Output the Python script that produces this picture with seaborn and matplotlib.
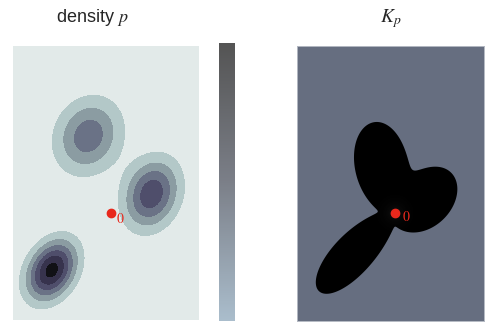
import numpy as np
import matplotlib
matplotlib.use("Agg")
import matplotlib.pyplot as plt
from matplotlib.colors import ListedColormap, BoundaryNorm, LinearSegmentedColormap
from matplotlib.patches import Polygon
from matplotlib.cm import ScalarMappable
import seaborn as sns

# ---- mixture density parameters ----
mean_x = [-0.60, 1.10, -1.585]
mean_y = [2.06, 0.50, -1.55]
sigma_major = [0.70, 0.65, 0.58]
sigma_minor = [0.58, 0.48, 0.40]
angle_deg = [65.0, 70.0, 60.0]
weights = [1 / 3, 1 / 3, 1 / 3]

density_levels = [0.0, 0.036, 0.072, 0.108, 0.144, 0.180, 0.216, 1.0]
band_colors = ["#e2eae9", "#b3c8c8", "#8b9ca2", "#6a7286", "#4f4e6b", "#37334d", "#111116"]
colorbar_colors = ["#aabdcc", "#7b7f88", "#545454"]
kp_background = "#666e80"
kp_dimension = 3
kp_scale = 1.7
origin_label = "$0$"
titles = ["density $p$", "$K_p$"]
x_range = (-2.625, 2.375)
y_range = (-2.89, 4.48)

sns.set_theme(style="white")
plt.rcParams["mathtext.fontset"] = "stix"
plt.rcParams["font.family"] = ["Liberation Sans", "DejaVu Sans"]


def density(X, Y):
    Z = np.zeros_like(X, dtype=float)
    for mx, my, sa, sb, ang, w in zip(mean_x, mean_y, sigma_major, sigma_minor, angle_deg, weights):
        t = np.deg2rad(ang)
        R = np.array([[np.cos(t), -np.sin(t)], [np.sin(t), np.cos(t)]])
        S = R @ np.diag([sa ** 2, sb ** 2]) @ R.T
        Si = np.linalg.inv(S)
        dx, dy = X - mx, Y - my
        q = Si[0, 0] * dx ** 2 + 2 * Si[0, 1] * dx * dy + Si[1, 1] * dy ** 2
        Z += w * np.exp(-q / 2) / (2 * np.pi * np.sqrt(np.linalg.det(S)))
    return Z


fig = plt.figure(figsize=(4.87, 3.22), dpi=100)
ax1 = fig.add_axes([13 / 487, 2 / 322, 186 / 487, 274 / 322])
cax = fig.add_axes([219 / 487, 1 / 322, 16 / 487, 278 / 322])
ax2 = fig.add_axes([297 / 487, 1 / 322, 187 / 487, 275 / 322])

# ---- left: density ----
xs = np.linspace(*x_range, 500)
ys = np.linspace(*y_range, 700)
X, Y = np.meshgrid(xs, ys)
Z = density(X, Y)
cmap = ListedColormap(sns.color_palette(band_colors))
norm = BoundaryNorm(density_levels, cmap.N)
ax1.contourf(X, Y, Z, levels=density_levels, cmap=cmap, norm=norm)
ax1.set_xlim(*x_range)
ax1.set_ylim(*y_range)

# ---- right: K_p (radial function from the density) ----
n = kp_dimension
thetas = np.linspace(0, 2 * np.pi, 1441)
rr = np.linspace(0, 12, 3000)
TT, RR = np.meshgrid(thetas, rr, indexing="ij")
P = density(RR * np.cos(TT), RR * np.sin(TT))
integral = np.trapezoid(RR ** (n - 1) * P, rr, axis=1)
rho = kp_scale * (n * integral) ** (1 / n)
ax2.set_facecolor(kp_background)
poly = Polygon(np.column_stack([rho * np.cos(thetas), rho * np.sin(thetas)]),
               closed=True, facecolor="black", edgecolor="none", zorder=1)
ax2.add_patch(poly)
# faint glow near origin
dist = np.sqrt(X ** 2 + Y ** 2)
glow = np.zeros(X.shape + (4,))
glow[..., :3] = 0.7
glow[..., 3] = 0.12 * np.exp(-dist / 0.18)
im = ax2.imshow(glow, extent=[*x_range, *y_range], origin="lower", zorder=2, aspect="auto")
im.set_clip_path(poly)
ax2.set_xlim(*x_range)
ax2.set_ylim(*y_range)

for ax, dx, dy in [(ax1, 0.27, -0.16), (ax2, 0.29, -0.11)]:
    ax.plot([0], [0], "o", color="#e8281c", markersize=6, zorder=5)
    ax.text(dx, dy, origin_label, color="#e8281c", fontsize=10, ha="center", va="center", zorder=5)
    ax.set_xticks([])
    ax.set_yticks([])
    for s in ax.spines.values():
        s.set_visible(False)
for s in ax2.spines.values():
    s.set_visible(True)
    s.set_color("#b4b9c3")
    s.set_linewidth(0.7)

# ---- colorbar ----
cb_cmap = LinearSegmentedColormap.from_list("cb", colorbar_colors)
cb = fig.colorbar(ScalarMappable(cmap=cb_cmap), cax=cax)
cb.set_ticks([])
cb.outline.set_visible(False)

fig.text(92 / 487, 1 - 17 / 322, titles[0], ha="center", va="center", fontsize=13)
fig.text(391 / 487, 1 - 19 / 322, titles[1], ha="center", va="center", fontsize=14)

fig.savefig("out.png", dpi=100)
